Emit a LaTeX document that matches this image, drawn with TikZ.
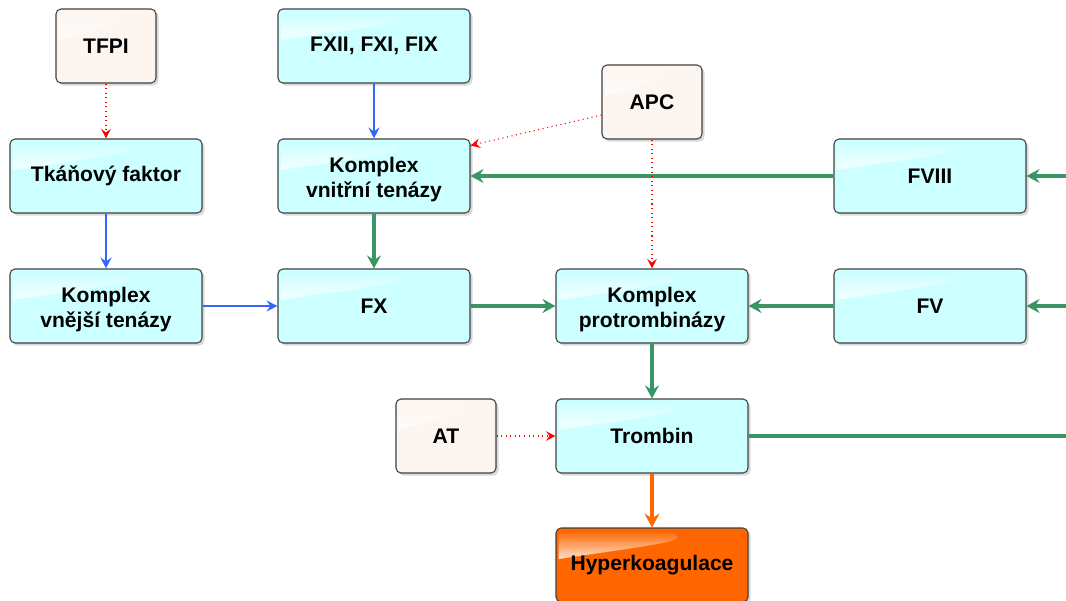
\documentclass[tikz,border=0pt]{standalone}
\usepackage{fontspec}
\setmainfont{Liberation Sans}
\usetikzlibrary{arrows.meta,shadows,calc,fadings}
\definecolor{boxcyan}{RGB}{204,255,255}
\definecolor{boxsand}{RGB}{253,245,240}
\definecolor{boxorange}{RGB}{255,102,0}
\definecolor{linegreen}{RGB}{56,150,100}
\definecolor{lineblue}{RGB}{51,102,255}
\definecolor{linered}{RGB}{255,0,0}

\begin{document}
\begin{tikzpicture}[x=0.2mm,y=-0.2mm,line join=round,
  factor/.style={draw=black!75,line width=0.6pt,rounded corners=1mm,fill=boxcyan,
    minimum width=38.4mm,minimum height=14.8mm,inner sep=0pt,align=center,
    font=\fontsize{12}{14.2}\selectfont\bfseries,
    drop shadow={shadow xshift=0.5mm,shadow yshift=-0.5mm,opacity=0.3},
    path picture={
      \coordinate (hlnw) at (path picture bounding box.north west);
      \coordinate (hlne) at (path picture bounding box.north east);
      \coordinate (hlsw) at (path picture bounding box.south west);
      \fill[white,opacity=0.8,path fading=north,rounded corners=1.5mm]
        ($(hlnw)+(0.5mm,-0.5mm)$) -- ($(hlnw)!0.63!(hlne)+(0,-0.5mm)$)
        [sharp corners] .. controls ($(hlnw)!0.63!(hlne)+(0,-3mm)$) and ($(hlnw)!0.3!(hlne)+(0,-4.5mm)$)
        .. ($(hlnw)!0.42!(hlsw)+(0.5mm,0)$) [rounded corners=1.5mm] -- cycle;}},
  inhibitor/.style={factor,fill=boxsand,minimum width=20mm},
  outcome/.style={factor,fill=boxorange},
  feed/.style={draw=linegreen,line width=2.3pt,-{Stealth[length=2.6mm,width=2.8mm,inset=0.9mm]}},
  feedline/.style={draw=linegreen,line width=2.3pt},
  activate/.style={draw=lineblue,line width=1.1pt,-{Stealth[length=2.2mm,width=2.2mm,inset=0.8mm]}},
  inhibit/.style={draw=linered,line width=0.6pt,dotted,-{Stealth[length=1.9mm,width=1.9mm,inset=0.7mm]}},
  result/.style={draw=boxorange,line width=2.8pt,-{Stealth[length=2.8mm,width=3mm,inset=1mm]}}]
\useasboundingbox (0,0) rectangle (1066,601);
\node[inhibitor] (tfpi) at (106,46) {TFPI};
\node[factor] (fxii) at (374,46) {FXII, FXI, FIX};
\node[inhibitor] (apc) at (652,102) {APC};
\node[factor] (tf) at (106,176) {Tkáňový faktor};
\node[factor] (vnitrni) at (374,176) {\rule{0pt}{12.2pt}Komplex\\vnitřní tenázy};
\node[factor] (fviii) at (930,176) {FVIII};
\node[factor] (vnejsi) at (106,306) {\rule{0pt}{12.2pt}Komplex\\vnější tenázy};
\node[factor] (fx) at (374,306) {FX};
\node[factor] (protromb) at (652,306) {\rule{0pt}{12.2pt}Komplex\\protrombinázy};
\node[factor] (fv) at (930,306) {FV};
\node[inhibitor] (at) at (446,436) {AT};
\node[factor] (trombin) at (652,436) {Trombin};
\node[outcome] (hyper) at (652,565) {Hyperkoagulace};
\coordinate (rVIII) at (1070,176);
\coordinate (rV) at (1070,306);
\coordinate (rT) at (1070,436);
\draw[inhibit] (tfpi) -- (tf);
\draw[activate] (tf) -- (vnejsi);
\draw[activate] (vnejsi) -- (fx);
\draw[activate] (fxii) -- (vnitrni);
\draw[feed] (vnitrni) -- (fx);
\draw[feed] (fx) -- (protromb);
\draw[feed] (fviii) -- (vnitrni);
\draw[feed] (fv) -- (protromb);
\draw[feed] (protromb) -- (trombin);
\draw[feedline] (trombin) -- (rT);
\draw[feed] (rVIII) -- (fviii);
\draw[feed] (rV) -- (fv);
\draw[inhibit] (apc) -- (protromb);
\draw[inhibit] ([yshift=-2.6mm]apc.west) -- ([yshift=-1.4mm]vnitrni.north east);
\draw[inhibit] (at) -- (trombin);
\draw[result] (trombin) -- (hyper);
\end{tikzpicture}
\end{document}
